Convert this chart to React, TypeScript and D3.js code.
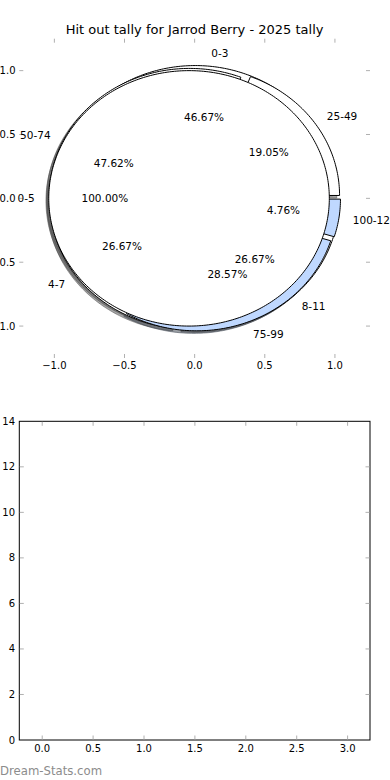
import React from 'react';
import * as d3 from 'd3';

// three pies drawn over each other on the same axes
const titleText = 'Hit out tally for Jarrod Berry - 2025 tally';

const hitoutLabels = ['0-3', '4-7', '8-11'];
const hitoutValues = [7, 4, 4];
const hitoutColors = ['#ffffff', '#ffffff', '#ffffff'];

const shareLabels = ['0-5'];
const shareValues = [15];
const shareColors = ['#ffffff'];

const pctLabels = ['25-49', '50-74', '75-99', '100-124'];
const pctValues = [4, 10, 6, 1];
const pctColors = ['#ffffff', '#ffffff', '#bfd8ff', '#bfd8ff'];

const explode = 0.04;

const pieTicks = [-1, -0.5, 0, 0.5, 1];
const barXTicks = [0, 0.5, 1, 1.5, 2, 2.5, 3];
const barYTicks = [0, 2, 4, 6, 8, 10, 12, 14];

const font = 'DejaVu Sans, sans-serif';
const W = 390;
const H = 780;

const xPie = d3.scaleLinear().domain([-1.25, 1.25]).range([19.3, 370]);
const yPie = d3.scaleLinear().domain([-1.25, 1.25]).range([358, 38.7]);

const xBar = d3.scaleLinear().domain([-0.225, 3.22]).range([19.3, 370]);
const yBar = d3.scaleLinear().domain([0, 14]).range([740, 421.3]);

const fmt = (v: number) => d3.format('.1f')(v).replace('-', '\u2212');

const line = d3.line<[number, number]>().x(d => xPie(d[0])).y(d => yPie(d[1]));

function wedgePath(cx: number, cy: number, a0: number, a1: number, full: boolean) {
    const n = Math.max(8, Math.ceil((a1 - a0) / (Math.PI / 180)));
    const pts: [number, number][] = d3.range(n + 1).map(i => {
        const a = a0 + (a1 - a0) * i / n;
        return [cx + Math.cos(a), cy + Math.sin(a)];
    });
    if (!full) pts.unshift([cx, cy]);
    return line(pts) + 'Z';
}

function buildPie(labels: string[], values: number[], colors: string[]) {
    const total = d3.sum(values);
    const arcs = d3.pie<number>().sort(null).startAngle(0).endAngle(2 * Math.PI)(values);
    return arcs.map((a, i) => {
        const mid = (a.startAngle + a.endAngle) / 2;
        const cx = explode * Math.cos(mid);
        const cy = explode * Math.sin(mid);
        const full = values.length === 1;
        return {
            label: labels[i],
            pct: (values[i] / total * 100).toFixed(2) + '%',
            color: colors[i],
            path: wedgePath(cx, cy, a.startAngle, a.endAngle, full),
            lx: cx + 1.1 * Math.cos(mid),
            ly: cy + 1.1 * Math.sin(mid),
            px: cx + 0.6 * Math.cos(mid),
            py: cy + 0.6 * Math.sin(mid),
        };
    });
}

const shadowColor = (c: string) => {
    const rgb = d3.rgb(c);
    return `rgba(${Math.round(rgb.r * 0.3)},${Math.round(rgb.g * 0.3)},${Math.round(rgb.b * 0.3)},0.5)`;
};

const App = () => {
    const pies = [
        buildPie(hitoutLabels, hitoutValues, hitoutColors),
        buildPie(pctLabels, pctValues, pctColors),
        buildPie(shareLabels, shareValues, shareColors),
    ];
    const allWedges = pies.flat();
    const sx = xPie(-0.02) - xPie(0);
    const sy = yPie(-0.02) - yPie(0);

    return (
        <svg width={W} height={H} style={{ position: 'absolute', left: 0, top: 0, background: '#fff' }}
            fontFamily={font}>
            <text x={194.6} y={34} textAnchor="middle" fontSize={13}>{titleText}</text>

            {/* pie axes ticks, no frame */}
            {pieTicks.map(t => (
                <g key={'px' + t} stroke="#b0b0b0">
                    <line x1={xPie(t)} x2={xPie(t)} y1={38.7} y2={42.7} />
                    <line x1={xPie(t)} x2={xPie(t)} y1={358} y2={354} />
                </g>
            ))}
            {pieTicks.map(t => (
                <g key={'py' + t} stroke="#b0b0b0">
                    <line x1={19.3} x2={23.3} y1={yPie(t)} y2={yPie(t)} />
                    <line x1={370} x2={366} y1={yPie(t)} y2={yPie(t)} />
                </g>
            ))}
            {pieTicks.map(t => (
                <text key={'pxl' + t} x={xPie(t)} y={369} textAnchor="middle" fontSize={10}>{fmt(t)}</text>
            ))}
            {pieTicks.map(t => (
                <text key={'pyl' + t} x={15.5} y={yPie(t)} dy="0.35em" textAnchor="end" fontSize={10}>{fmt(t)}</text>
            ))}

            {/* shadows under everything */}
            <g transform={`translate(${sx},${sy})`}>
                {allWedges.map((w, i) => (
                    <path key={'s' + i} d={w.path} fill={shadowColor(w.color)} stroke={shadowColor(w.color)} />
                ))}
            </g>
            {allWedges.map((w, i) => (
                <path key={'w' + i} d={w.path} fill={w.color} stroke="#000" strokeWidth={1} strokeLinejoin="round" />
            ))}
            {allWedges.map((w, i) => (
                <text key={'l' + i} x={xPie(w.lx)} y={yPie(w.ly)} dy="0.35em" fontSize={10.5}
                    textAnchor={w.lx > 0 ? 'start' : 'end'}>{w.label}</text>
            ))}
            {allWedges.map((w, i) => (
                <text key={'p' + i} x={xPie(w.px)} y={yPie(w.py)} dy="0.35em" fontSize={10.5}
                    textAnchor="middle">{w.pct}</text>
            ))}

            {/* empty bar axes */}
            <rect x={19.3} y={421.3} width={370 - 19.3} height={740 - 421.3} fill="none" stroke="#000" />
            {barXTicks.map(t => (
                <g key={'bx' + t} stroke="#b0b0b0">
                    <line x1={xBar(t)} x2={xBar(t)} y1={421.8} y2={425.8} />
                    <line x1={xBar(t)} x2={xBar(t)} y1={739.5} y2={735.5} />
                </g>
            ))}
            {barYTicks.slice(1, -1).map(t => (
                <g key={'by' + t} stroke="#b0b0b0">
                    <line x1={19.8} x2={23.8} y1={yBar(t)} y2={yBar(t)} />
                    <line x1={369.5} x2={365.5} y1={yBar(t)} y2={yBar(t)} />
                </g>
            ))}
            {barXTicks.map(t => (
                <text key={'bxl' + t} x={xBar(t)} y={752} textAnchor="middle" fontSize={10}>{fmt(t)}</text>
            ))}
            {barYTicks.map(t => (
                <text key={'byl' + t} x={15} y={yBar(t)} dy="0.35em" textAnchor="end" fontSize={10}>{t}</text>
            ))}

            <text x={0} y={775} fontSize={11.7} fill="#8c8c8c">Dream-Stats.com</text>
        </svg>
    );
};

export default App;
